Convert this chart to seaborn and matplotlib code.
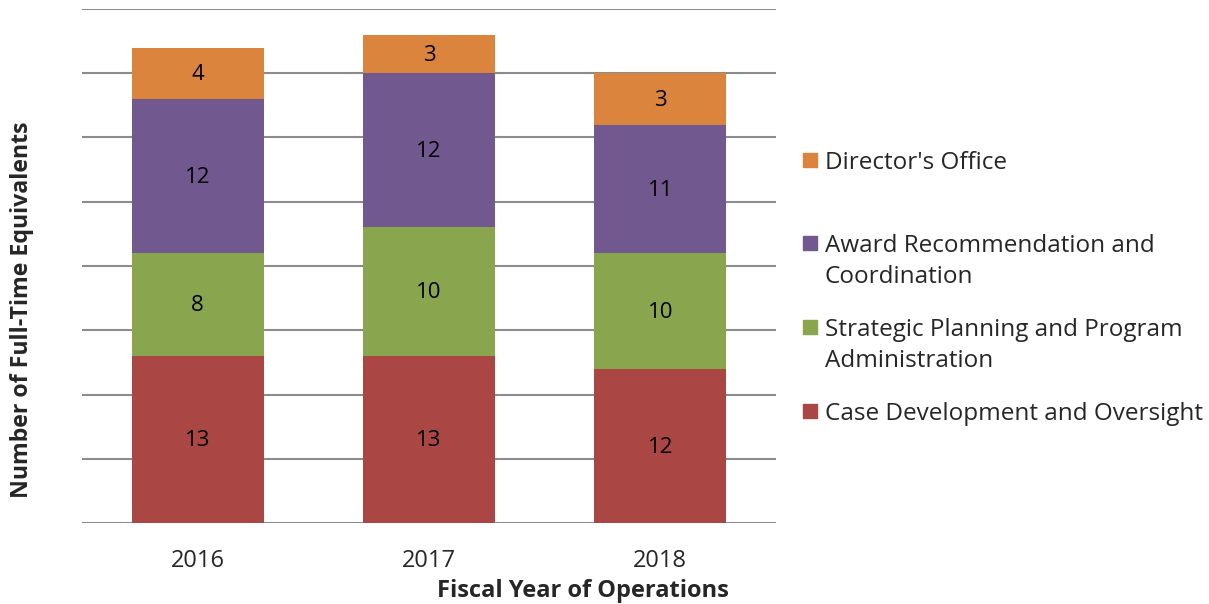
import matplotlib.pyplot as plt
import matplotlib.patches as mpatches
import seaborn as sns
import pandas as pd
import numpy as np

# Данные (снизу вверх по стеку)
years = ['2016', '2017', '2018']
units = ['Case Development and Oversight',
         'Strategic Planning and Program\nAdministration',
         'Award Recommendation and\nCoordination',
         "Director's Office"]
case_dev = [13, 13, 12]
strategic = [8, 10, 9]
award = [12, 12, 10]
director = [4, 3, 4]
# подписи так, как они стоят на исходной диаграмме
case_dev_lbl = ['13', '13', '12']
strategic_lbl = ['8', '10', '10']
award_lbl = ['12', '12', '11']
director_lbl = ['4', '3', '3']

colors = ['#AA4643', '#89A54E', '#71588F', '#DB843D']

sns.set_style('white')
plt.rcParams['font.family'] = ['Open Sans', 'DejaVu Sans']

fig = plt.figure(figsize=(12.09, 6.04), dpi=100)
ax = fig.add_axes([82 / 1209, 1 - 523 / 604, 694 / 1209, 514 / 604])

layers = [case_dev, strategic, award, director]
labels = [case_dev_lbl, strategic_lbl, award_lbl, director_lbl]
cum = np.cumsum(np.array(layers), axis=0)

# рисуем накопленные суммы сверху вниз, чтобы получить стек
for i in reversed(range(len(layers))):
    df = pd.DataFrame({'year': years, 'value': cum[i]})
    sns.barplot(data=df, x='year', y='value', color=colors[i], width=0.57,
                saturation=1, linewidth=0, ax=ax, zorder=3)

for i in range(len(layers)):
    for j in range(len(years)):
        mid = cum[i][j] - layers[i][j] / 2
        ax.text(j, mid - 0.1, labels[i][j], ha='center', va='center',
                fontsize=16, color='black', zorder=4)

ax.set_ylim(0, 40)
ax.set_xlim(-0.5, 2.5)
ax.set_yticks(range(0, 41, 5))
ax.set_yticklabels([])
ax.tick_params(axis='y', length=0)
ax.tick_params(axis='x', length=0, labelsize=17, pad=19)
ax.yaxis.grid(True, color='#8C8C8C', linewidth=1.5, zorder=0)
ax.set_axisbelow(True)
for s in ['top', 'right', 'left', 'bottom']:
    ax.spines[s].set_visible(False)
ax.set_xlabel('')
ax.set_ylabel('')

fig.text(583 / 1209, 1 - 591 / 604, 'Fiscal Year of Operations',
         ha='center', va='center', fontsize=17, fontweight='bold')
fig.text(22 / 1209, 1 - 310 / 604, 'Number of Full-Time Equivalents',
         ha='center', va='center', rotation=90, fontsize=16.7, fontweight='bold')

# легенда справа
leg_y = [160, 243, 327, 411]
for k, idx in enumerate([3, 2, 1, 0]):
    y = 1 - leg_y[k] / 604
    fig.patches.append(mpatches.Rectangle((803 / 1209, y - 7 / 604), 14 / 1209, 14 / 604,
                                          transform=fig.transFigure, color=colors[idx]))
    fig.text(825 / 1209, y + 9 / 604, units[idx], ha='left', va='top',
             fontsize=17.5, linespacing=1.38)

plt.savefig('out.png', dpi=100)
plt.close()
